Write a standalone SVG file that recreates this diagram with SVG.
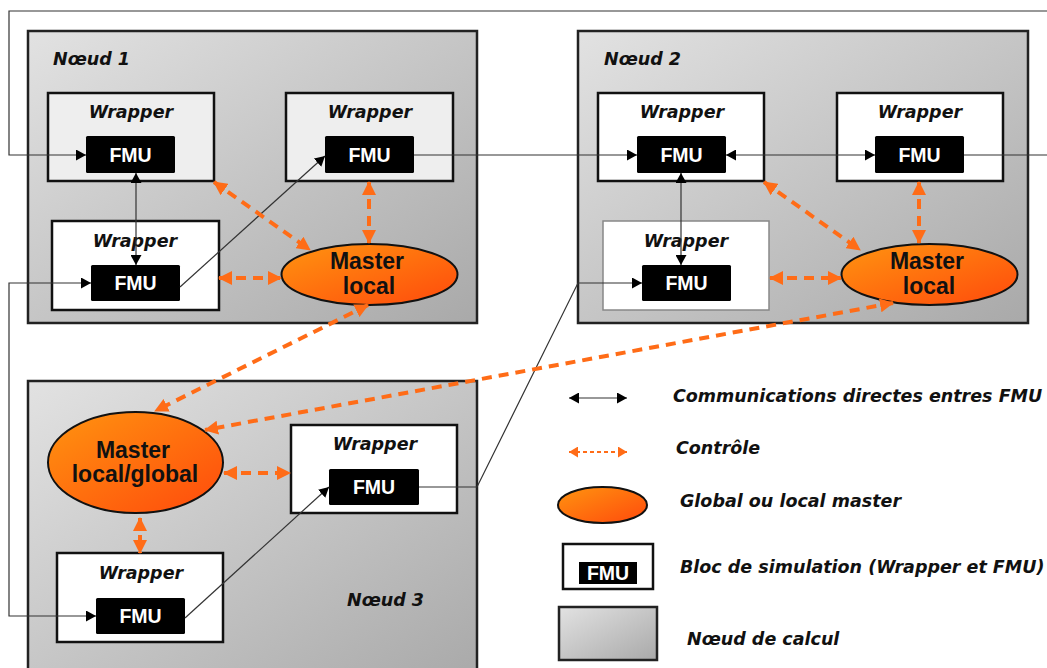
<svg xmlns="http://www.w3.org/2000/svg" width="1047" height="668" viewBox="0 0 1047 668">
<style>
.node{stroke:#222;stroke-width:2.5;fill:url(#gGray)}
.wrap{stroke:#111;stroke-width:2.5;fill:#fff}
.wrapL{stroke:#111;stroke-width:2.5;fill:#eee}
.wrapG{stroke:#888;stroke-width:1.5;fill:#fff}
.fmu{fill:#000}
.master{fill:url(#gOrange);stroke:#111;stroke-width:2}
.lab{font-family:"DejaVu Sans",sans-serif;font-weight:bold;font-style:oblique;font-size:17.5px;fill:#111}
.fmut{font-family:"Liberation Sans",Arial,sans-serif;font-weight:bold;font-size:19.5px;fill:#fff;text-anchor:middle}
.mt{font-family:"Liberation Sans",Arial,sans-serif;font-weight:bold;font-size:23px;fill:#111;text-anchor:middle}
.mid{text-anchor:middle}
.cx{fill:none;stroke:#333;stroke-width:1.2}
.ctl{fill:none;stroke:#ff6c17;stroke-width:4;stroke-dasharray:10 7}
</style>
<defs>
<linearGradient id="gGray" x1="0" y1="0" x2="1" y2="1">
<stop offset="0" stop-color="#e2e2e2"/>
<stop offset="1" stop-color="#a9a9a9"/>
</linearGradient>
<linearGradient id="gOrange" x1="0" y1="0" x2="1" y2="1">
<stop offset="0" stop-color="#ff9410"/>
<stop offset="1" stop-color="#ff4a0c"/>
</linearGradient>
<marker id="aB" viewBox="0 0 10 11" refX="10" refY="5.5" markerWidth="10" markerHeight="11" markerUnits="userSpaceOnUse" orient="auto-start-reverse">
<path d="M0,0 L10,5.5 L0,11 z" fill="#000"/>
</marker>
<marker id="aO" viewBox="0 0 14 14" refX="13" refY="7" markerWidth="14" markerHeight="14" markerUnits="userSpaceOnUse" orient="auto-start-reverse">
<path d="M0,0 L14,7 L0,14 z" fill="#ff6c17"/>
</marker>
<marker id="aOs" viewBox="0 0 9 11" refX="9" refY="5.5" markerWidth="9" markerHeight="11" markerUnits="userSpaceOnUse" orient="auto-start-reverse">
<path d="M0,0 L9,5.5 L0,11 z" fill="#ff6c17"/>
</marker>
</defs>

<!-- compute nodes -->
<g id="noeud1">
<rect class="node" x="28" y="31" width="449" height="292"/>
<text class="lab" x="53" y="65">Nœud 1</text>
</g>
<g id="noeud2">
<rect class="node" x="578" y="31" width="450" height="292"/>
<text class="lab" x="604" y="65">Nœud 2</text>
</g>
<g id="noeud3">
<rect class="node" x="28" y="381" width="449" height="300"/>
<text class="lab" x="347" y="606">Nœud 3</text>
</g>

<!-- wrappers -->
<g id="n1w1">
<rect class="wrapL" x="48" y="93" width="166" height="88"/>
<text class="lab mid" x="131" y="118">Wrapper</text>
<rect class="fmu" x="86" y="136" width="89" height="37" rx="1.5"/>
<text class="fmut" x="130.5" y="162">FMU</text>
</g>
<g id="n1w2">
<rect class="wrapL" x="286" y="93" width="167" height="88"/>
<text class="lab mid" x="370" y="118">Wrapper</text>
<rect class="fmu" x="325" y="136" width="89" height="37" rx="1.5"/>
<text class="fmut" x="369.5" y="162">FMU</text>
</g>
<g id="n1w3">
<rect class="wrap" x="52" y="221" width="167" height="89"/>
<text class="lab mid" x="135" y="247">Wrapper</text>
<rect class="fmu" x="91" y="265" width="89" height="36" rx="1.5"/>
<text class="fmut" x="135.5" y="290">FMU</text>
</g>
<g id="n2w1">
<rect class="wrap" x="598" y="93" width="166" height="88"/>
<text class="lab mid" x="682" y="118">Wrapper</text>
<rect class="fmu" x="637" y="136" width="89" height="37" rx="1.5"/>
<text class="fmut" x="681.5" y="162">FMU</text>
</g>
<g id="n2w2">
<rect class="wrap" x="837" y="93" width="166" height="88"/>
<text class="lab mid" x="920" y="118">Wrapper</text>
<rect class="fmu" x="875" y="136" width="89" height="37" rx="1.5"/>
<text class="fmut" x="919.5" y="162">FMU</text>
</g>
<g id="n2w3">
<rect class="wrapG" x="603" y="221" width="166" height="89"/>
<text class="lab mid" x="686" y="247">Wrapper</text>
<rect class="fmu" x="642" y="265" width="89" height="36" rx="1.5"/>
<text class="fmut" x="686.5" y="290">FMU</text>
</g>
<g id="n3w1">
<rect class="wrap" x="291" y="425" width="166" height="88"/>
<text class="lab mid" x="375" y="450">Wrapper</text>
<rect class="fmu" x="329" y="469" width="90" height="36" rx="1.5"/>
<text class="fmut" x="374" y="494">FMU</text>
</g>
<g id="n3w2">
<rect class="wrap" x="57" y="553" width="166" height="89"/>
<text class="lab mid" x="141" y="579">Wrapper</text>
<rect class="fmu" x="96" y="598" width="89" height="36" rx="1.5"/>
<text class="fmut" x="140.5" y="623">FMU</text>
</g>

<!-- masters -->
<g id="master1">
<ellipse class="master" cx="369.5" cy="274.5" rx="88" ry="30.5"/>
<text class="mt" x="367" y="269">Master</text>
<text class="mt" x="369" y="294">local</text>
</g>
<g id="master2">
<ellipse class="master" cx="929.5" cy="274.5" rx="88" ry="30.5"/>
<text class="mt" x="927" y="269">Master</text>
<text class="mt" x="929" y="294">local</text>
</g>
<g id="master3">
<ellipse class="master" cx="135.5" cy="462.5" rx="87.5" ry="50.5"/>
<text class="mt" x="133" y="458">Master</text>
<text class="mt" x="135" y="482">local/global</text>
</g>

<!-- connectors -->
<g id="connectors">
<path class="cx" d="M964,155 H1052 V11 H9 V155 H86" marker-end="url(#aB)"/>
<path class="cx" d="M414,155 H637" marker-end="url(#aB)"/>
<path class="cx" d="M726,155 H875" marker-start="url(#aB)" marker-end="url(#aB)"/>
<path class="cx" d="M136,173 V265" marker-start="url(#aB)" marker-end="url(#aB)"/>
<path class="cx" d="M180,287 L325,156" marker-end="url(#aB)"/>
<path class="cx" d="M681,173 V265" marker-start="url(#aB)" marker-end="url(#aB)"/>
<path class="cx" d="M91,283 H9 V616 H96" marker-start="url(#aB)" marker-end="url(#aB)"/>
<path class="cx" d="M185,618 L329,487" marker-end="url(#aB)"/>
<path class="cx" d="M419,487 H477 L578,283 H642" marker-end="url(#aB)"/>

<path class="ctl" d="M214,182 L310,250" marker-start="url(#aO)" marker-end="url(#aO)"/>
<path class="ctl" d="M369,182 V243" marker-start="url(#aO)" marker-end="url(#aO)"/>
<path class="ctl" d="M219,278 H281" marker-start="url(#aO)" marker-end="url(#aO)"/>
<path class="ctl" d="M368,305 L155,411" marker-start="url(#aO)" marker-end="url(#aO)"/>
<path class="ctl" d="M893,303 L205,430" marker-start="url(#aO)" marker-end="url(#aO)"/>
<path class="ctl" d="M764,182 L860,250" marker-start="url(#aO)" marker-end="url(#aO)"/>
<path class="ctl" d="M919,182 V243" marker-start="url(#aO)" marker-end="url(#aO)"/>
<path class="ctl" d="M770,278 H841" marker-start="url(#aO)" marker-end="url(#aO)"/>
<path class="ctl" d="M224,473 H290" marker-start="url(#aO)" marker-end="url(#aO)"/>
<path class="ctl" d="M140,518 V553" marker-start="url(#aO)" marker-end="url(#aO)"/>
</g>

<!-- legend -->
<g id="legend">
<path class="cx" d="M569,398 H627" marker-start="url(#aB)" marker-end="url(#aB)"/>
<text class="lab" x="673" y="402">Communications directes entres FMU</text>
<path d="M569,452 H627" fill="none" stroke="#ff6c17" stroke-width="2" stroke-dasharray="4 3" marker-start="url(#aOs)" marker-end="url(#aOs)"/>
<text class="lab" x="676" y="454">Contrôle</text>
<ellipse class="master" cx="602.5" cy="505" rx="44.5" ry="18"/>
<text class="lab" x="680" y="507">Global ou local master</text>
<rect class="wrap" x="563" y="544" width="90" height="45"/>
<rect class="fmu" x="579" y="562" width="58" height="22"/>
<text class="fmut" x="608" y="580">FMU</text>
<text class="lab" x="680" y="573">Bloc de simulation (Wrapper et FMU)</text>
<rect class="node" x="559" y="607" width="98" height="53"/>
<text class="lab" x="687" y="645">Nœud de calcul</text>
</g>
</svg>
